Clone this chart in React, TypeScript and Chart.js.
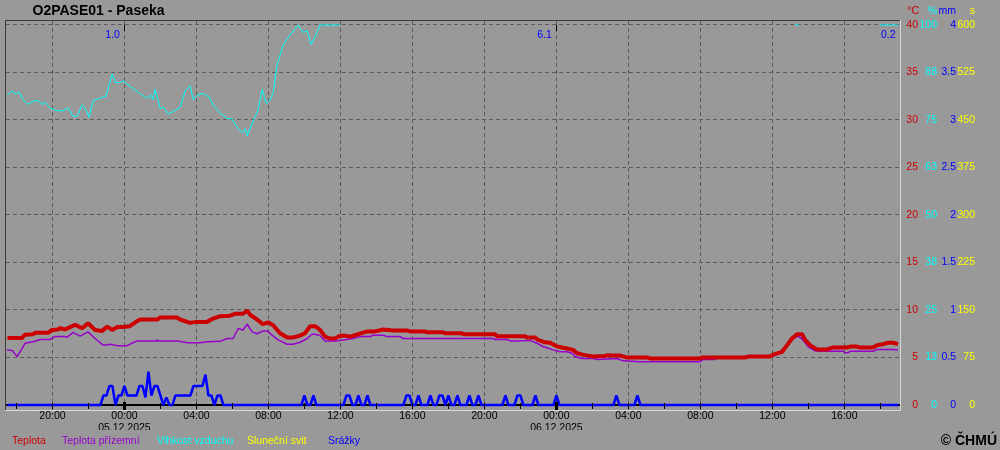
import React, { useEffect, useRef } from 'react';
import { Chart, registerables } from 'chart.js';

Chart.register(...registerables);

// ---------- text ----------
const TITLE = 'O2PASE01 - Paseka';
const COPYRIGHT = '© ČHMÚ';
const UNIT_LABELS = ['°C', '%', 'mm', 's'];
const FIRST_DAY = 4;
const MONTH_YEAR = '12.2025';

// ---------- time axis (hours since 04.12.2025 00:00) ----------
const X_MIN = 17.42;
const X_MAX = 67.09;
const X_TICK_HOURS = [18, 20, 22, 24, 26, 28, 30, 32, 34, 36, 38, 40, 42, 44, 46, 48, 50, 52, 54, 56, 58, 60, 62, 64, 66];

// ---------- value axes ----------
const T_TICKS = [0, 5, 10, 15, 20, 25, 30, 35, 40];
const H_TICKS = [0, 12.5, 25, 37.5, 50, 62.5, 75, 87.5, 100];
const P_TICKS = [0, 0.5, 1, 1.5, 2, 2.5, 3, 3.5, 4];
const S_TICKS = [0, 75, 150, 225, 300, 375, 450, 525, 600];

// ---------- daily precipitation totals ----------
const DAY_TOTAL_LABELS = ['1.0', '6.1', '0.2'];
const DAY_TOTAL_END_HOURS = [24, 48, 72];

// ---------- Teplota ----------
const T_HOURS = [17.5, 18.3, 18.48, 18.93, 19.04, 19.76, 19.98, 20.3, 20.43, 20.7, 20.98, 21.26, 21.65, 21.98, 22.37, 22.76, 23.04, 23.32, 23.6, 23.87, 24.3, 24.6, 24.87, 25.82, 25.98, 26.93, 27.09, 27.65, 28.04, 28.59, 28.93, 29.32, 29.87, 30.15, 30.59, 30.82, 30.98, 31.37, 31.7, 31.98, 32.26, 32.65, 33.04, 33.37, 33.76, 34.03, 34.32, 34.59, 34.87, 35.15, 35.43, 35.7, 35.98, 36.26, 36.54, 36.98, 37.48, 37.93, 38.37, 38.93, 39.7, 39.87, 40.7, 40.82, 41.7, 41.82, 42.76, 42.82, 44.59, 44.7, 46.26, 46.37, 46.82, 46.98, 47.37, 47.65, 48.04, 48.59, 48.93, 49.15, 49.59, 50.04, 50.7, 50.82, 51.09, 51.54, 51.93, 53.04, 53.2, 55.98, 56.09, 58.48, 58.65, 59.87, 60.04, 60.54, 60.82, 61.09, 61.37, 61.65, 61.82, 62.09, 62.48, 63.04, 63.37, 64.15, 64.32, 64.7, 64.87, 65.59, 65.82, 66.15, 66.43, 66.7, 66.98];
const T_VALUES = [7.05, 7.05, 7.4, 7.45, 7.6, 7.6, 7.9, 7.95, 8.1, 7.95, 8.2, 8.45, 8.07, 8.6, 7.9, 7.8, 8.25, 7.9, 8.2, 8.2, 8.3, 8.7, 9.0, 9.0, 9.2, 9.2, 9.0, 8.65, 8.75, 8.75, 9.1, 9.35, 9.4, 9.6, 9.6, 9.95, 9.5, 9.0, 8.5, 8.7, 8.4, 7.55, 7.1, 7.1, 7.3, 7.55, 8.3, 8.3, 7.9, 7.2, 7.0, 7.0, 7.3, 7.3, 7.2, 7.45, 7.75, 7.75, 7.95, 7.85, 7.85, 7.75, 7.75, 7.65, 7.65, 7.55, 7.55, 7.45, 7.45, 7.25, 7.25, 7.1, 7.1, 6.85, 6.6, 6.55, 6.15, 5.95, 5.8, 5.45, 5.25, 5.1, 5.15, 5.25, 5.2, 5.2, 5.0, 5.0, 4.9, 4.9, 5.0, 5.0, 5.1, 5.1, 5.3, 5.6, 6.3, 7.0, 7.45, 7.45, 6.85, 6.3, 5.85, 5.85, 6.05, 6.05, 6.15, 6.15, 6.05, 6.05, 6.3, 6.4, 6.55, 6.55, 6.4];

// ---------- Teplota přízemní ----------
const G_HOURS = [17.48, 17.76, 18.04, 18.32, 18.48, 18.93, 19.32, 19.87, 20.15, 20.59, 20.82, 21.15, 21.54, 21.98, 22.37, 22.82, 23.2, 23.6, 24.15, 24.48, 24.7, 25.76, 25.82, 25.87, 26.93, 27.48, 28.2, 28.59, 29.32, 29.7, 30.04, 30.32, 30.59, 30.82, 31.09, 31.37, 31.7, 31.93, 32.2, 32.54, 33.04, 33.37, 33.76, 34.15, 34.43, 34.59, 34.87, 35.15, 35.82, 36.15, 36.7, 37.09, 37.65, 37.82, 38.37, 38.59, 39.32, 39.48, 44.48, 44.59, 45.26, 45.43, 45.98, 46.54, 46.93, 47.26, 47.82, 48.2, 48.59, 48.87, 49.04, 49.43, 50.04, 50.26, 51.37, 51.7, 52.65, 55.98, 56.15, 56.82, 56.93, 58.59, 58.76, 60.04, 60.43, 60.82, 61.15, 61.43, 61.7, 61.98, 62.37, 62.65, 63.93, 64.04, 64.2, 64.32, 65.59, 65.82, 66.7, 66.98];
const G_VALUES = [5.8, 5.75, 5.1, 5.95, 6.5, 6.65, 6.9, 6.9, 7.2, 7.2, 7.15, 7.65, 7.25, 7.7, 7.0, 6.3, 6.4, 6.25, 6.25, 6.55, 6.75, 6.75, 6.85, 6.75, 6.75, 6.55, 6.55, 6.65, 6.7, 7.0, 7.0, 8.05, 7.9, 8.5, 7.7, 7.5, 7.8, 7.8, 7.35, 6.85, 6.4, 6.4, 6.6, 7.0, 7.45, 7.45, 7.3, 6.75, 6.75, 6.85, 7.0, 7.2, 7.2, 7.35, 7.35, 7.2, 7.2, 7.0, 7.0, 6.9, 6.9, 6.75, 6.75, 6.8, 6.5, 6.15, 5.8, 5.6, 5.6, 5.45, 5.1, 4.9, 4.9, 4.8, 4.9, 4.65, 4.55, 4.55, 4.8, 4.8, 5.0, 5.0, 5.1, 5.1, 5.6, 6.3, 7.0, 7.25, 6.85, 6.15, 5.7, 5.65, 5.65, 5.5, 5.5, 5.65, 5.65, 5.85, 5.85, 5.8];

// ---------- Vlhkost vzduchu ----------
const H_HOURS = [17.5, 17.74, 18.02, 18.15, 18.37, 18.65, 18.93, 19.21, 19.41, 19.59, 19.87, 20.32, 20.59, 20.87, 21.15, 21.37, 21.65, 21.82, 22.04, 22.26, 22.65, 22.98, 23.15, 23.32, 23.52, 23.76, 23.98, 24.2, 24.59, 24.97, 25.24, 25.46, 25.58, 25.71, 25.98, 26.17, 26.43, 26.71, 27.09, 27.37, 27.65, 27.82, 28.09, 28.37, 28.71, 28.93, 29.32, 29.71, 29.98, 30.26, 30.54, 30.71, 30.82, 31.09, 31.43, 31.65, 31.87, 32.09, 32.26, 32.48, 32.82, 33.21, 33.65, 33.93, 34.15, 34.37, 34.59, 34.87, 35.98, 36.1, 61.26, 61.48, 61.6, 65.98, 66.98];
const H_VALUES = [81.6, 82.6, 81.8, 82.4, 80.3, 79.1, 80.0, 80.1, 79.1, 79.6, 78.1, 77.4, 77.4, 78.2, 76.0, 75.9, 79.0, 78.0, 75.7, 80.1, 80.7, 81.3, 84.2, 87.1, 84.8, 84.9, 85.3, 84.2, 82.9, 81.6, 80.7, 81.6, 80.4, 83.1, 78.1, 78.4, 76.6, 77.2, 78.3, 82.6, 84.0, 80.4, 81.6, 82.0, 81.0, 78.9, 76.8, 75.4, 75.3, 73.1, 71.7, 72.7, 70.8, 74.1, 77.6, 83.1, 79.4, 80.3, 82.0, 89.5, 94.7, 97.4, 100, 98.0, 98.5, 94.9, 96.9, 100, 100, null, 100, 100, null, 100, 100];

// ---------- Sluneční svit ----------
const S_HOURS = [17.5, 67.0];
const S_VALUES = [0, 0];

// ---------- Srážky (10-min totals) ----------
const P_HOURS = [17.5, 22.667, 22.833, 23.0, 23.167, 23.333, 23.5, 23.667, 23.833, 24.0, 24.167, 24.333, 24.5, 24.667, 24.833, 25.0, 25.167, 25.333, 25.5, 25.667, 25.833, 26.0, 26.167, 26.333, 26.5, 26.667, 26.833, 27.0, 27.167, 27.333, 27.5, 27.667, 27.833, 28.0, 28.167, 28.333, 28.5, 28.667, 28.833, 29.0, 29.167, 29.333, 29.5,
  33.833, 34.0, 34.167, 34.333, 34.5, 34.667, 36.167, 36.333, 36.5, 36.667, 36.833, 37.0, 37.167, 37.333, 37.5, 37.667, 39.5, 39.667, 39.833, 40.0, 40.167, 40.333, 40.5, 40.833, 41.0, 41.167, 41.333, 41.5, 41.667, 41.833, 42.0, 42.167, 42.333, 42.5, 42.667, 43.0, 43.167, 43.333, 43.5, 43.667, 43.833, 45.0, 45.167, 45.333, 45.667, 45.833, 46.0, 46.167, 46.667, 46.833, 47.0, 47.833, 48.0, 48.167, 51.167, 51.333, 51.5, 52.333, 52.5, 52.667, 67.0];
const P_VALUES = [0, 0, 0.1, 0.1, 0.2, 0.2, 0, 0.1, 0.1, 0.2, 0.1, 0.1, 0.1, 0.1, 0.2, 0.2, 0.08, 0.35, 0.1, 0.2, 0.2, 0.1, 0, 0.08, 0, 0, 0.1, 0.1, 0.1, 0.1, 0.1, 0.1, 0.2, 0.2, 0.2, 0.2, 0.32, 0.1, 0.1, 0, 0.1, 0.1, 0,
  0, 0.1, 0, 0, 0.1, 0, 0, 0.1, 0.1, 0, 0, 0.1, 0, 0, 0.1, 0, 0, 0.1, 0.1, 0, 0, 0.1, 0, 0, 0.1, 0, 0, 0.1, 0.1, 0, 0.1, 0, 0, 0.1, 0, 0, 0.1, 0, 0, 0.1, 0, 0, 0.1, 0, 0, 0.1, 0.1, 0, 0, 0.1, 0, 0, 0.1, 0, 0, 0.1, 0, 0, 0.1, 0, 0];

// ---------- styles ----------
const FONT = '"Liberation Sans", Arial, sans-serif';
const BG = '#999999';
const GRID = '#5c5c5c';
const FRAME_DARK = '#3a3a3a';
const FRAME_LIGHT = '#d8d8d8';
const RED = '#cc0000';
const PURPLE = '#9900cc';
const CYAN = '#00ffff';
const YELLOW = '#ffff00';
const BLUE = '#0000ff';
const LEGEND_X = [12, 62, 157, 247, 328];
const AXIS_IDS = ['yT', 'yH', 'yP', 'yS'];
const AXIS_COLORS = [RED, CYAN, BLUE, YELLOW];
const PRECIP_INDEX = 4;

const pts = (xs: number[], ys: (number | null)[]) => xs.map((x, i) => ({ x, y: ys[i] }));
const limits = (top: number) => ({ min: -top * 5 / 380, max: top * (1 + 4 / 380) });
const fixedTicks = (values: number[]) => (scale: any) => {
  scale.ticks = values.map((v) => ({ value: v }));
};

function xLabel(v: number): string | string[] {
  const h = Math.round(v);
  if (h % 4 !== 0) return '';
  const hh = h % 24;
  const t = String(hh).padStart(2, '0') + ':00';
  if (hh === 0) {
    const day = FIRST_DAY + Math.floor(h / 24);
    return [t, String(day).padStart(2, '0') + '.' + MONTH_YEAR];
  }
  return t;
}

function yAxis(ticks: number[], color: string, padding: number, width: number, weight: number, grid: boolean, fmt: (v: number) => string) {
  const top = ticks[ticks.length - 1];
  return {
    type: 'linear',
    position: 'right',
    weight,
    ...limits(top),
    afterBuildTicks: fixedTicks(ticks),
    afterFit: (s: any) => { s.width = width; },
    grid: grid ? { color: GRID, lineWidth: 1, drawTicks: false } : { display: false, drawTicks: false },
    border: { display: false, dash: [4, 3] },
    ticks: {
      color,
      font: { family: FONT, size: 10.5 },
      padding,
      crossAlign: 'far',
      autoSkip: false,
      callback: (v: number) => fmt(v),
    },
  };
}

const decor = {
  id: 'decor',
  beforeDraw(chart: any) {
    const { ctx, width, height } = chart;
    ctx.save();
    ctx.fillStyle = BG;
    ctx.fillRect(0, 0, width, height);
    ctx.restore();
  },
  beforeDatasetDraw(chart: any, args: any) {
    if (args.index !== PRECIP_INDEX) return;
    const { ctx, chartArea: ca, scales } = chart;
    const y0 = Math.round(scales.yT.getPixelForValue(0));
    ctx.save();
    ctx.fillStyle = '#000';
    ctx.fillRect(ca.left, y0 - 1, ca.right - ca.left, 2);
    ctx.restore();
  },
  afterDatasetsDraw(chart: any) {
    const { ctx, chartArea: ca, scales } = chart;
    const xs = scales.x;
    ctx.save();
    ctx.fillStyle = FRAME_DARK;
    ctx.fillRect(ca.left - 1, ca.top - 1, ca.right - ca.left + 1, 1);
    ctx.fillRect(ca.left - 1, ca.top - 1, 1, ca.bottom - ca.top + 1);
    ctx.fillStyle = FRAME_LIGHT;
    ctx.fillRect(ca.right, ca.top - 1, 1, ca.bottom - ca.top + 2);
    ctx.fillRect(ca.left - 1, ca.bottom, ca.right - ca.left + 2, 1);

    ctx.fillStyle = '#000';
    for (const t of xs.ticks) {
      const px = Math.round(xs.getPixelForValue(t.value));
      if (t.value % 24 === 0) {
        ctx.fillRect(px - 1, ca.bottom - 8, 3, 8);
        ctx.fillRect(px, ca.top + 4, 1, 6);
      } else {
        ctx.fillRect(px, ca.bottom - 7, 1, 6);
      }
    }

    ctx.font = `10.5px ${FONT}`;
    ctx.fillStyle = BLUE;
    ctx.textAlign = 'right';
    ctx.textBaseline = 'middle';
    DAY_TOTAL_END_HOURS.forEach((h, i) => {
      const px = xs.getPixelForValue(Math.min(h, xs.max));
      ctx.fillText(DAY_TOTAL_LABELS[i], px - 4.5, ca.top + 14);
    });
    ctx.restore();
  },
  afterDraw(chart: any) {
    const { ctx, scales } = chart;
    ctx.save();
    ctx.textBaseline = 'middle';
    ctx.fillStyle = '#000';
    ctx.font = `bold 14px ${FONT}`;
    ctx.textAlign = 'left';
    ctx.fillText(TITLE, 32.5, 11.5);

    ctx.font = `10.5px ${FONT}`;
    ctx.textAlign = 'right';
    AXIS_IDS.forEach((id, i) => {
      const s = scales[id];
      ctx.fillStyle = AXIS_COLORS[i];
      ctx.fillText(UNIT_LABELS[i], s.right + (i === 0 ? 1 : 0), 11);
    });

    ctx.textAlign = 'left';
    chart.data.datasets.forEach((ds: any, i: number) => {
      ctx.fillStyle = ds.borderColor;
      ctx.fillText(ds.label, LEGEND_X[i], 441);
    });

    ctx.fillStyle = '#000';
    ctx.font = `bold 14px ${FONT}`;
    ctx.textAlign = 'right';
    ctx.fillText(COPYRIGHT, 997, 441);
    ctx.restore();
  },
};

export default function App() {
  const ref = useRef<HTMLCanvasElement | null>(null);

  useEffect(() => {
    document.body.style.margin = '0';
    const canvas = ref.current;
    if (!canvas) return;
    const common = { pointRadius: 0, tension: 0, fill: false, borderCapStyle: 'butt', borderJoinStyle: 'bevel' };
    const chart = new Chart(canvas, {
      type: 'line',
      data: {
        datasets: [
          { ...common, label: 'Teplota', data: pts(T_HOURS, T_VALUES), borderColor: RED, borderWidth: 4, yAxisID: 'yT', order: 1 },
          { ...common, label: 'Teplota přízemní', data: pts(G_HOURS, G_VALUES), borderColor: PURPLE, borderWidth: 1.5, yAxisID: 'yT', order: 2 },
          { ...common, label: 'Vlhkost vzduchu', data: pts(H_HOURS, H_VALUES), borderColor: CYAN, borderWidth: 1, yAxisID: 'yH', order: 3, spanGaps: false },
          { ...common, label: 'Sluneční svit', data: pts(S_HOURS, S_VALUES), borderColor: YELLOW, borderWidth: 1, yAxisID: 'yS', order: 4 },
          { ...common, label: 'Srážky', data: pts(P_HOURS, P_VALUES), borderColor: BLUE, borderWidth: 2.5, yAxisID: 'yP', order: 0 },
        ],
      } as any,
      options: {
        animation: false,
        responsive: false,
        devicePixelRatio: 1,
        events: [],
        layout: { padding: { left: 6, top: 21, right: 25, bottom: 20 } },
        plugins: { legend: { display: false }, title: { display: false }, tooltip: { enabled: false } },
        scales: {
          x: {
            type: 'linear',
            position: 'bottom',
            min: X_MIN,
            max: X_MAX,
            afterBuildTicks: fixedTicks(X_TICK_HOURS),
            afterFit: (s: any) => { s.height = 20; },
            grid: {
              color: (c: any) => (c.tick && c.tick.value % 4 === 0 ? GRID : 'rgba(0,0,0,0)'),
              lineWidth: 1,
              drawTicks: false,
            },
            border: { display: false, dash: [4, 3] },
            ticks: {
              autoSkip: false,
              maxRotation: 0,
              minRotation: 0,
              padding: 0,
              color: '#000',
              font: { family: FONT, size: 10.5, lineHeight: '12px' },
              callback: (v: number) => xLabel(v),
            },
          },
          yT: yAxis(T_TICKS, RED, 6.3, 18, 0, true, (v) => String(v)),
          yH: yAxis(H_TICKS, CYAN, 1.5, 19, 1, false, (v) => String(Math.round(v))),
          yP: yAxis(P_TICKS, BLUE, 4.4, 19, 2, false, (v) => String(v)),
          yS: yAxis(S_TICKS, YELLOW, 1.5, 19, 3, false, (v) => String(v)),
        },
      } as any,
      plugins: [decor as any],
    });
    return () => chart.destroy();
  }, []);

  return <canvas ref={ref} width={1000} height={450} style={{ display: 'block', width: 1000, height: 450 }} />;
}
